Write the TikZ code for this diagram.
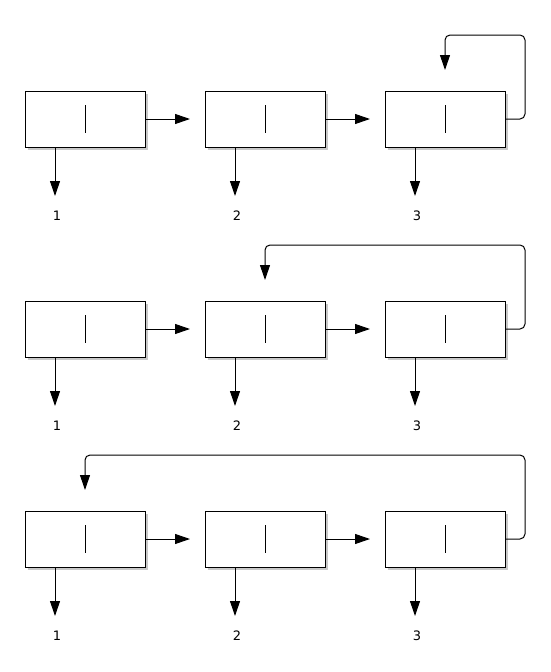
\documentclass[tikz,border=0pt]{standalone}
\usepackage{fontspec}
\setmainfont{DejaVu Sans}
\usetikzlibrary{arrows.meta,shadows}
\begin{document}
\begin{tikzpicture}[x=1pt,y=-1pt,
  cell/.style={draw=black,fill=white,line width=1pt,minimum width=120pt,minimum height=56pt,inner sep=0pt,
    drop shadow={shadow xshift=2.5pt,shadow yshift=-2.5pt,opacity=0.35,fill=black!60}},
  conn/.style={line width=1pt,-{Triangle[length=15pt,width=10pt]}},
  lbl/.style={font=\fontsize{13pt}{15pt}\selectfont,inner sep=0pt}]
\useasboundingbox (0,0) rectangle (550,672);
\fill[white] (0,0) rectangle (550,672);
\foreach \r/\yy/\tx in {1/119/445, 2/329/265, 3/539/85}{
  \foreach \c/\xx in {1/85, 2/265, 3/445}{
    \node[cell] (b\r\c) at (\xx,\yy) {};
    \draw[line width=1pt] (\xx,\yy-14) -- (\xx,\yy+14);
    \coordinate (d\r\c) at (\xx-30,\yy+77);
    \draw[conn] (b\r\c.south -| d\r\c) -- (d\r\c);
    \node[lbl] (l\r\c) at (\xx-28,\yy+97) {\c};
  }
  \coordinate (g\r1) at (190,\yy);
  \coordinate (g\r2) at (370,\yy);
  \draw[conn] (b\r1.east) -- (g\r1);
  \draw[conn] (b\r2.east) -- (g\r2);
  \coordinate (t\r) at (\tx,\yy-49);
  \draw[conn,rounded corners=5pt] (b\r3.east) -- (525,\yy) -- (525,\yy-84) -- (\tx,\yy-84) -- (t\r);
}
\end{tikzpicture}
\end{document}
